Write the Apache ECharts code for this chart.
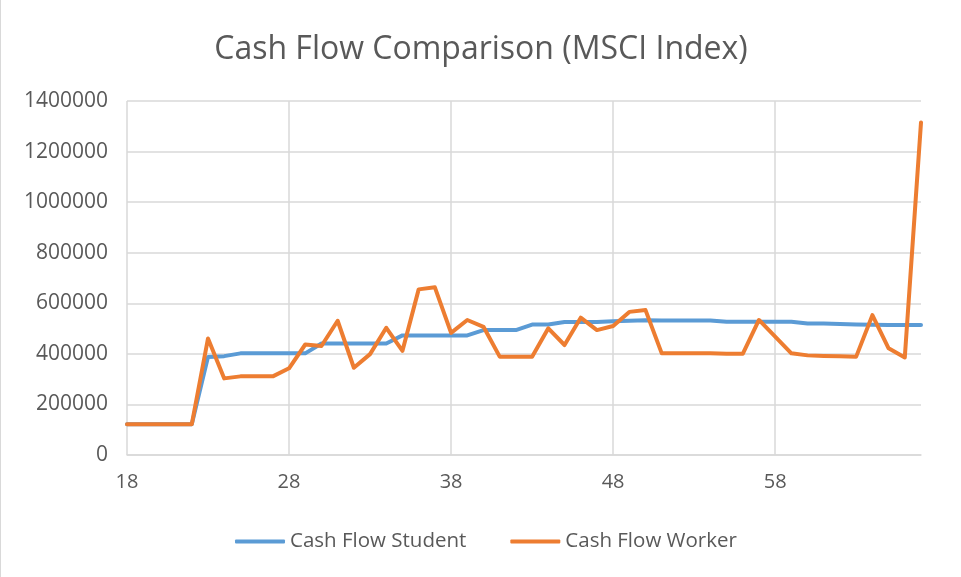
<!DOCTYPE html>
<html>
<head>
<meta charset="utf-8">
<script src="https://cdn.jsdelivr.net/npm/echarts@6/dist/echarts.min.js"></script>
<style>
  html, body { margin: 0; padding: 0; background: #fff; }
  #chart { width: 961px; height: 577px; box-sizing: border-box; border-left: 1px solid #d9d9d9; }
</style>
</head>
<body>
<div id="chart"></div>
<script>
// ages 18..67
var ages = [];
for (var a = 18; a <= 67; a++) ages.push(String(a));

var cashFlowStudent = [
	122000, 122000, 122000, 122000, 122000,          // 18-22
	388000, 391000, 402000, 402000, 402000,          // 23-27
	402000, 402000, 441000, 441000, 441000,          // 28-32
	441000, 441000, 473000, 473000, 473000,          // 33-37
	473000, 473000, 494000, 494000, 494000,          // 38-42
	516000, 516000, 526000, 526000, 526000,          // 43-47
	529000, 531000, 533000, 532000, 532000,          // 48-52
	532000, 532000, 527000, 527000, 527000,          // 53-57
	527000, 527000, 520000, 520000, 518000,          // 58-62
	516000, 515000, 514000, 514000, 514000           // 63-67
];

var cashFlowWorker = [
	122000, 122000, 122000, 122000, 122000,          // 18-22
	461000, 303000, 311000, 311000, 311000,          // 23-27
	343000, 437000, 431000, 531000, 345000,          // 28-32
	399000, 503000, 412000, 655000, 663000,          // 33-37
	483000, 534000, 507000, 389000, 389000,          // 38-42
	389000, 501000, 435000, 543000, 494000,          // 43-47
	510000, 566000, 573000, 402000, 402000,          // 48-52
	402000, 402000, 400000, 400000, 534000,          // 53-57
	468000, 402000, 394000, 392000, 391000,          // 58-62
	389000, 553000, 422000, 386000, 1315000          // 63-67
];

var seriesNames = ['Cash Flow Student', 'Cash Flow Worker'];

var textColor = '#595959';
var gridColor = '#d9d9d9';
var font = "'Open Sans', sans-serif";

var option = {
	animation: false,
	color: ['#5B9BD5', '#ED7D31'],
	title: {
		text: 'Cash Flow Comparison (MSCI Index)',
		left: 'center',
		top: 29,
		textStyle: {
			fontSize: 32,
			fontWeight: 'normal',
			color: textColor,
			fontFamily: font
		}
	},
	legend: {
		data: seriesNames,
		top: 526,
		left: 229,
		icon: 'roundRect',
		itemWidth: 50,
		itemHeight: 4,
		itemGap: 44,
		textStyle: { fontSize: 20.5, color: textColor, fontFamily: font }
	},
	grid: { left: 126, right: 40, top: 101, bottom: 122, containLabel: false },
	xAxis: {
		type: 'category',
		boundaryGap: false,
		data: ages,
		axisLine: { show: true, lineStyle: { color: gridColor, width: 1.5 } },
		axisTick: { show: false },
		axisLabel: { interval: 9, color: textColor, fontSize: 20, fontFamily: font, margin: 17 },
		splitLine: { show: true, interval: 9, lineStyle: { color: gridColor, width: 1.5 } }
	},
	yAxis: {
		type: 'value',
		min: 0,
		max: 1400000,
		interval: 200000,
		axisLine: { show: false },
		axisTick: { show: false },
		axisLabel: {
			color: textColor, fontSize: 21, fontFamily: font, margin: 19,
			formatter: function(v){ return String(v); }
		},
		splitLine: { show: true, lineStyle: { color: gridColor, width: 1.5 } }
	},
	series: [
		{
			name: seriesNames[0],
			type: 'line',
			data: cashFlowStudent,
			showSymbol: false,
			lineStyle: { width: 4, cap: 'round', join: 'round' }
		},
		{
			name: seriesNames[1],
			type: 'line',
			data: cashFlowWorker,
			showSymbol: false,
			lineStyle: { width: 4, cap: 'round', join: 'round' }
		}
	]
};

try {
	var myChart = echarts.init(document.getElementById('chart'));
	myChart.setOption(option);
} catch (e) {
	console.log(e);
}
</script>
</body>
</html>
